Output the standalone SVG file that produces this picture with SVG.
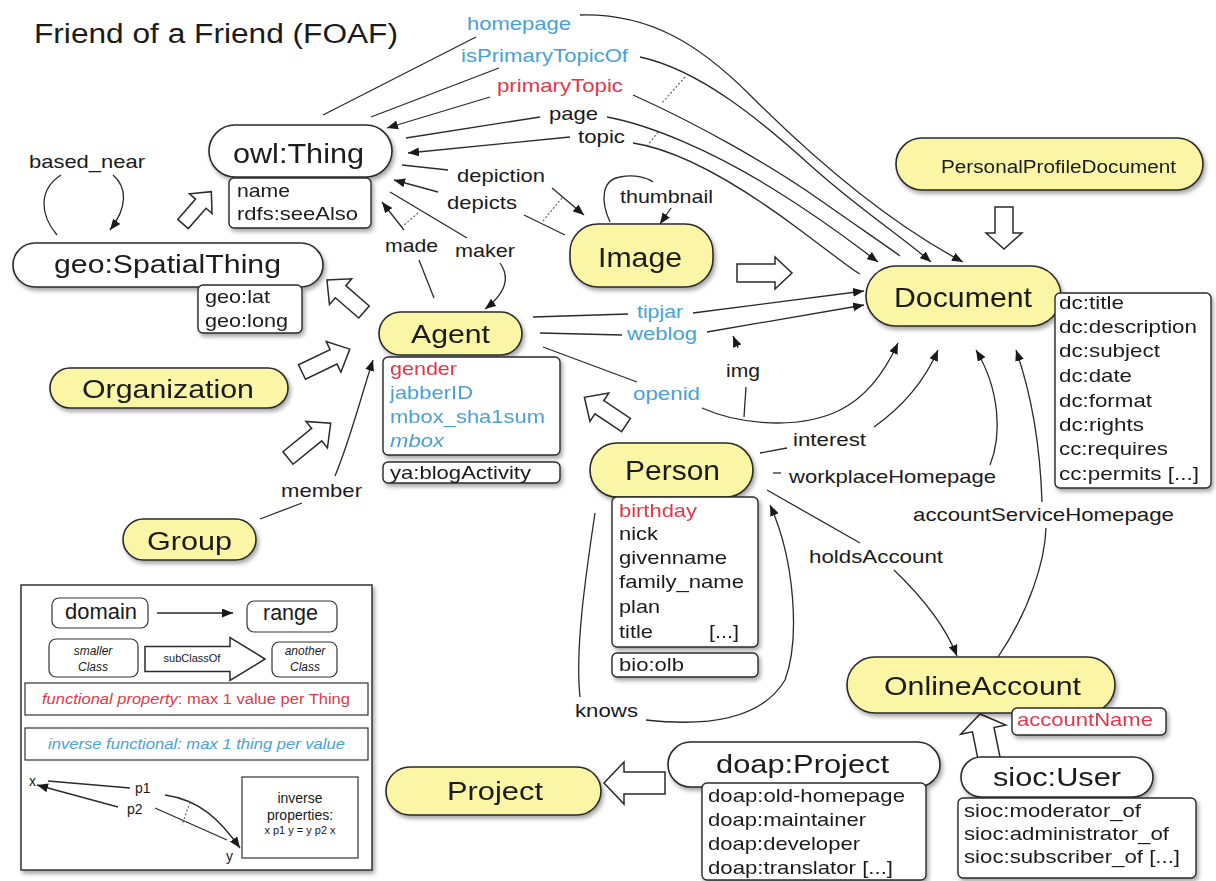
<svg xmlns="http://www.w3.org/2000/svg" width="1216" height="881" viewBox="0 0 1216 881">
<defs>
<style>
text{font-family:"Liberation Sans",Arial,Helvetica,sans-serif;fill:#1a1a1a}
.pill{fill:#faf6a6;stroke:#2a2a2a;stroke-width:1.6}
.wpill{fill:#fff;stroke:#2a2a2a;stroke-width:1.6}
.box{fill:#fff;stroke:#2a2a2a;stroke-width:1.4}
.lg{fill:#fff;stroke:#333;stroke-width:1.2}
.big{font-size:26px}
.prop{font-size:19px}
.lbl{font-size:19px}
.blue{fill:#4aa0d8}
.red{fill:#e0384a}
.c{fill:none;stroke:#2a2a2a;stroke-width:1.3}
.a{marker-end:url(#ah)}
.d{fill:none;stroke:#666;stroke-width:1.2;stroke-dasharray:2 2}
.ha{fill:#fff;stroke:#2a2a2a;stroke-width:1.5}
</style>
<marker id="ah" viewBox="0 0 11 9" refX="11" refY="4.5" markerWidth="11" markerHeight="9" markerUnits="userSpaceOnUse" orient="auto"><path d="M0,0 L11,4.5 L0,9 z" fill="#1a1a1a"/></marker>
<filter id="sh" x="-10%" y="-15%" width="125%" height="150%"><feDropShadow dx="2" dy="3" stdDeviation="2" flood-color="#000" flood-opacity="0.35"/></filter>
</defs>
<rect width="1216" height="881" fill="#fff"/>
<text x="34" y="43" font-size="27" textLength="364" lengthAdjust="spacingAndGlyphs">Friend of a Friend (FOAF)</text>

<g id="connectors">
<path class="c" d="M323,115 L476,37"/>
<path class="c a" d="M580,15 C650,13 700,45 750,95 S880,218 963,262"/>
<path class="c" d="M371,117 L499,68"/>
<path class="c a" d="M640,57 C700,70 760,120 810,165 S900,235 931,262"/>
<path class="c a" d="M490,97 L387,128"/>
<path class="c" d="M633,95 C700,125 770,165 820,200 S885,245 900,256"/>
<path class="c" d="M406,138 L540,117"/>
<path class="c a" d="M607,117 C650,125 710,150 770,187 S855,245 878,262"/>
<path class="c a" d="M570,137 L408,153"/>
<path class="c" d="M633,143 C680,150 740,185 800,230 S850,268 860,274"/>
<path class="d" d="M685,77 L662,103"/>
<path class="d" d="M658,132 L648,145"/>
<path class="c" d="M402,165 L448,170"/>
<path class="c a" d="M552,188 L584,215"/>
<path class="c a" d="M438,192 L394,180"/>
<path class="c" d="M524,215 L565,235"/>
<path class="d" d="M562,198 L542,222"/>
<path class="c" d="M610,222 C600,200 602,180 620,177 C635,174 648,178 653,182"/>
<path class="c a" d="M671,208 L660,224"/>
<path class="c" d="M434,298 L419,260"/>
<path class="c a" d="M404,230 L382,202"/>
<path class="c" d="M390,192 L467,238"/>
<path class="c a" d="M500,263 C512,280 502,296 485,309"/>
<path class="d" d="M418,213 L403,226"/>
<path class="c" d="M57,235 C40,215 38,190 61,175"/>
<path class="c a" d="M113,175 C127,187 128,207 110,230"/>
<path class="c" d="M260,519 L302,503"/>
<path class="c a" d="M335,476 C350,440 360,400 373,360"/>
<path class="c" d="M533,317 L628,314"/>
<path class="c a" d="M693,313 L864,291"/>
<path class="c" d="M540,333 L622,335"/>
<path class="c a" d="M707,332 L864,305"/>
<path class="c" d="M543,347 L637,382"/>
<path class="c a" d="M702,408 C740,425 800,430 840,410 C870,395 888,365 898,343"/>
<path class="c" d="M744,417 L746,387"/>
<path class="c a" d="M738,348 L733,336"/>
<path class="c" d="M760,453 L787,448"/>
<path class="c a" d="M874,427 C905,405 925,380 938,350"/>
<path class="c" d="M773,473 L781,473"/>
<path class="c a" d="M990,465 C1002,435 1000,390 976,350"/>
<path class="c" d="M998,657 C1030,610 1045,560 1046,528"/>
<path class="c a" d="M1042,502 C1040,440 1030,390 1016,350"/>
<path class="c" d="M767,490 L860,543"/>
<path class="c a" d="M894,570 C920,595 945,625 957,656"/>
<path class="c" d="M595,513 C585,580 575,650 580,697"/>
<path class="c a" d="M646,720 C700,726 760,722 785,680 C800,640 795,560 770,505"/>
<polygon class="ha" points="0,-7 27,-7 27,-15 43,0 27,15 27,7 0,7" transform="translate(183,224) rotate(-48.8)"/>
<polygon class="ha" points="0,-8 31,-8 31,-17 49,0 31,17 31,8 0,8" transform="translate(364,312) rotate(-139.1)"/>
<polygon class="ha" points="0,-8 35,-8 35,-17 53,0 35,17 35,8 0,8" transform="translate(302,372) rotate(-25.6)"/>
<polygon class="ha" points="0,-8 37,-8 37,-17 55,0 37,17 37,8 0,8" transform="translate(288,458) rotate(-39.1)"/>
<polygon class="ha" points="0,-9 38,-9 38,-16 55,0 38,16 38,9 0,9" transform="translate(737,273)"/>
<polygon class="ha" points="0,-9 26,-9 26,-18 42,0 26,18 26,9 0,9" transform="translate(1004,207) rotate(90)"/>
<polygon class="ha" points="0,-8 32,-8 32,-17 50,0 32,17 32,8 0,8" transform="translate(626,425) rotate(-146.3)"/>
<polygon class="ha" points="0,-11 34,-11 34,-23 50,0 34,23 34,11 0,11" transform="translate(990,763) rotate(-101.5)"/>
<polygon class="ha" points="0,-11 41,-11 41,-21 61,0 41,21 41,11 0,11" transform="translate(665,783) rotate(180)"/>
</g>

<g id="labels">
<text class="lbl blue" x="467" y="30" textLength="104" lengthAdjust="spacingAndGlyphs">homepage</text>
<text class="lbl blue" x="461" y="62" textLength="167" lengthAdjust="spacingAndGlyphs">isPrimaryTopicOf</text>
<text class="lbl red" x="497" y="92" textLength="126" lengthAdjust="spacingAndGlyphs">primaryTopic</text>
<text class="lbl" x="549" y="120" textLength="49" lengthAdjust="spacingAndGlyphs">page</text>
<text class="lbl" x="578" y="143" textLength="47" lengthAdjust="spacingAndGlyphs">topic</text>
<text class="lbl" x="457" y="182" textLength="88" lengthAdjust="spacingAndGlyphs">depiction</text>
<text class="lbl" x="447" y="209" textLength="70" lengthAdjust="spacingAndGlyphs">depicts</text>
<text class="lbl" x="620" y="203" textLength="93" lengthAdjust="spacingAndGlyphs">thumbnail</text>
<text class="lbl" x="385" y="252" textLength="53" lengthAdjust="spacingAndGlyphs">made</text>
<text class="lbl" x="455" y="257" textLength="60" lengthAdjust="spacingAndGlyphs">maker</text>
<text class="lbl" x="29" y="168" textLength="116" lengthAdjust="spacingAndGlyphs">based_near</text>
<text class="lbl blue" x="637" y="318" textLength="46" lengthAdjust="spacingAndGlyphs">tipjar</text>
<text class="lbl blue" x="627" y="340" textLength="70" lengthAdjust="spacingAndGlyphs">weblog</text>
<text class="lbl" x="726" y="377" textLength="34" lengthAdjust="spacingAndGlyphs">img</text>
<text class="lbl blue" x="633" y="400" textLength="67" lengthAdjust="spacingAndGlyphs">openid</text>
<text class="lbl" x="793" y="446" textLength="73" lengthAdjust="spacingAndGlyphs">interest</text>
<text class="lbl" x="789" y="483" textLength="207" lengthAdjust="spacingAndGlyphs">workplaceHomepage</text>
<text class="lbl" x="913" y="521" textLength="261" lengthAdjust="spacingAndGlyphs">accountServiceHomepage</text>
<text class="lbl" x="809" y="563" textLength="134" lengthAdjust="spacingAndGlyphs">holdsAccount</text>
<text class="lbl" x="575" y="717" textLength="63" lengthAdjust="spacingAndGlyphs">knows</text>
<text class="lbl" x="281" y="497" textLength="81" lengthAdjust="spacingAndGlyphs">member</text>
</g>

<g id="owlThing" filter="url(#sh)">
<rect class="wpill" x="209" y="125" width="183" height="52" rx="26"/>
<text x="233" y="163" font-size="28" textLength="131" lengthAdjust="spacingAndGlyphs">owl:Thing</text>
<rect class="box" x="229" y="178" width="142" height="50" rx="5"/>
<text class="prop" x="237" y="197" textLength="53" lengthAdjust="spacingAndGlyphs">name</text>
<text class="prop" x="237" y="220" textLength="121" lengthAdjust="spacingAndGlyphs">rdfs:seeAlso</text>
</g>

<g id="geoSpatialThing" filter="url(#sh)">
<rect class="wpill" x="13" y="243" width="310" height="44" rx="22"/>
<text class="big" x="54" y="273" textLength="227" lengthAdjust="spacingAndGlyphs">geo:SpatialThing</text>
<rect class="box" x="198" y="285" width="104" height="48" rx="5"/>
<text class="prop" x="205" y="303" textLength="65" lengthAdjust="spacingAndGlyphs">geo:lat</text>
<text class="prop" x="205" y="327" textLength="83" lengthAdjust="spacingAndGlyphs">geo:long</text>
</g>

<g id="Organization" filter="url(#sh)">
<rect class="pill" x="50" y="368" width="238" height="40" rx="20"/>
<text class="big" x="82" y="398" textLength="172" lengthAdjust="spacingAndGlyphs">Organization</text>
</g>

<g id="Group" filter="url(#sh)">
<rect class="pill" x="123" y="519" width="133" height="41" rx="20.5"/>
<text class="big" x="147" y="550" textLength="85" lengthAdjust="spacingAndGlyphs">Group</text>
</g>

<g id="Agent" filter="url(#sh)">
<rect class="pill" x="379" y="312" width="143" height="43" rx="21.5"/>
<text class="big" x="411" y="343" textLength="79" lengthAdjust="spacingAndGlyphs">Agent</text>
<rect class="box" x="383" y="357" width="177" height="98" rx="5"/>
<text class="prop red" x="390" y="375" textLength="67" lengthAdjust="spacingAndGlyphs">gender</text>
<text class="prop blue" x="390" y="399" textLength="83" lengthAdjust="spacingAndGlyphs">jabberID</text>
<text class="prop blue" x="390" y="423" textLength="155" lengthAdjust="spacingAndGlyphs">mbox_sha1sum</text>
<text class="prop blue" x="390" y="447" font-style="italic" textLength="54" lengthAdjust="spacingAndGlyphs">mbox</text>
<rect class="box" x="383" y="462" width="177" height="21" rx="5"/>
<text class="prop" x="390" y="479" textLength="141" lengthAdjust="spacingAndGlyphs">ya:blogActivity</text>
</g>

<g id="Image" filter="url(#sh)">
<rect class="pill" x="570" y="224" width="143" height="63" rx="28"/>
<text x="598" y="267" font-size="27" textLength="84" lengthAdjust="spacingAndGlyphs">Image</text>
</g>

<g id="PersonalProfileDocument" filter="url(#sh)">
<rect class="pill" x="896" y="138" width="307" height="52" rx="26"/>
<text x="941" y="173" font-size="18" textLength="235" lengthAdjust="spacingAndGlyphs">PersonalProfileDocument</text>
</g>

<g id="Document" filter="url(#sh)">
<rect class="pill" x="866" y="266" width="195" height="60" rx="30"/>
<text x="894" y="307" font-size="28" textLength="138" lengthAdjust="spacingAndGlyphs">Document</text>
<rect class="box" x="1055" y="293" width="156" height="195" rx="5"/>
<text class="prop" x="1059" y="309" textLength="65" lengthAdjust="spacingAndGlyphs">dc:title</text>
<text class="prop" x="1059" y="333" textLength="138" lengthAdjust="spacingAndGlyphs">dc:description</text>
<text class="prop" x="1059" y="357" textLength="101" lengthAdjust="spacingAndGlyphs">dc:subject</text>
<text class="prop" x="1059" y="382" textLength="73" lengthAdjust="spacingAndGlyphs">dc:date</text>
<text class="prop" x="1059" y="407" textLength="93" lengthAdjust="spacingAndGlyphs">dc:format</text>
<text class="prop" x="1059" y="431" textLength="85" lengthAdjust="spacingAndGlyphs">dc:rights</text>
<text class="prop" x="1059" y="455" textLength="109" lengthAdjust="spacingAndGlyphs">cc:requires</text>
<text class="prop" x="1059" y="480" textLength="140" lengthAdjust="spacingAndGlyphs">cc:permits [...]</text>
</g>

<g id="Person" filter="url(#sh)">
<rect class="pill" x="590" y="443" width="163" height="54" rx="27"/>
<text x="625" y="480" font-size="28" textLength="95" lengthAdjust="spacingAndGlyphs">Person</text>
<rect class="box" x="612" y="497" width="146" height="150" rx="5"/>
<text class="prop red" x="619" y="517" textLength="78" lengthAdjust="spacingAndGlyphs">birthday</text>
<text class="prop" x="619" y="540" textLength="39" lengthAdjust="spacingAndGlyphs">nick</text>
<text class="prop" x="619" y="564" textLength="108" lengthAdjust="spacingAndGlyphs">givenname</text>
<text class="prop" x="619" y="588" textLength="125" lengthAdjust="spacingAndGlyphs">family_name</text>
<text class="prop" x="619" y="613" textLength="41" lengthAdjust="spacingAndGlyphs">plan</text>
<text class="prop" x="619" y="638" textLength="34" lengthAdjust="spacingAndGlyphs">title</text>
<text class="prop" x="709" y="638" textLength="30" lengthAdjust="spacingAndGlyphs">[...]</text>
<rect class="box" x="612" y="653" width="146" height="24" rx="5"/>
<text class="prop" x="619" y="671" textLength="65" lengthAdjust="spacingAndGlyphs">bio:olb</text>
</g>

<g id="OnlineAccount" filter="url(#sh)">
<rect class="pill" x="847" y="657" width="268" height="56" rx="28"/>
<text class="big" x="884" y="695" textLength="197" lengthAdjust="spacingAndGlyphs">OnlineAccount</text>
<rect class="box" x="1012" y="708" width="154" height="27" rx="5"/>
<text class="prop red" x="1017" y="726" textLength="136" lengthAdjust="spacingAndGlyphs">accountName</text>
</g>

<g id="siocUser" filter="url(#sh)">
<rect class="wpill" x="961" y="757" width="192" height="40" rx="20"/>
<text class="big" x="993" y="786" textLength="128" lengthAdjust="spacingAndGlyphs">sioc:User</text>
<rect class="box" x="958" y="798" width="238" height="80" rx="5"/>
<text class="prop" x="964" y="817" textLength="177" lengthAdjust="spacingAndGlyphs">sioc:moderator_of</text>
<text class="prop" x="964" y="840" textLength="205" lengthAdjust="spacingAndGlyphs">sioc:administrator_of</text>
<text class="prop" x="964" y="863" textLength="216" lengthAdjust="spacingAndGlyphs">sioc:subscriber_of [...]</text>
</g>

<g id="doapProject" filter="url(#sh)">
<rect class="wpill" x="668" y="742" width="272" height="45" rx="22.5"/>
<text class="big" x="716" y="773" textLength="173" lengthAdjust="spacingAndGlyphs">doap:Project</text>
<rect class="box" x="702" y="783" width="224" height="97" rx="5"/>
<text class="prop" x="708" y="802" textLength="197" lengthAdjust="spacingAndGlyphs">doap:old-homepage</text>
<text class="prop" x="708" y="826" textLength="158" lengthAdjust="spacingAndGlyphs">doap:maintainer</text>
<text class="prop" x="708" y="850" textLength="152" lengthAdjust="spacingAndGlyphs">doap:developer</text>
<text class="prop" x="708" y="874" textLength="185" lengthAdjust="spacingAndGlyphs">doap:translator [...]</text>
</g>

<g id="Project" filter="url(#sh)">
<rect class="pill" x="386" y="767" width="215" height="48" rx="24"/>
<text x="447" y="800" font-size="25" textLength="96" lengthAdjust="spacingAndGlyphs">Project</text>
</g>

<g id="legend">
<rect x="21" y="585" width="351" height="285" fill="#fff" stroke="#333" stroke-width="1.5" filter="url(#sh)"/>
<rect class="lg" x="52" y="598" width="96" height="30" rx="7"/>
<text x="65" y="619" font-size="22" textLength="72" lengthAdjust="spacingAndGlyphs">domain</text>
<path class="c a" d="M157,613 L233,613"/>
<rect class="lg" x="247" y="601" width="90" height="31" rx="7"/>
<text x="263" y="620" font-size="22" textLength="55" lengthAdjust="spacingAndGlyphs">range</text>
<rect class="lg" x="49" y="639" width="89" height="38" rx="7"/>
<text x="93" y="655" font-size="12" font-style="italic" text-anchor="middle" fill="#444">smaller</text>
<text x="93" y="671" font-size="12" font-style="italic" text-anchor="middle" fill="#444">Class</text>
<polygon class="ha" points="0,-12.5 85,-12.5 85,-21.5 120,0 85,21.5 85,12.5 0,12.5" transform="translate(145,659)"/>
<text x="192" y="662" font-size="11" text-anchor="middle" fill="#333">subClassOf</text>
<rect class="lg" x="272" y="642" width="65" height="35" rx="7"/>
<text x="305" y="655" font-size="12" font-style="italic" text-anchor="middle" fill="#444">another</text>
<text x="305" y="671" font-size="12" font-style="italic" text-anchor="middle" fill="#444">Class</text>
<rect class="lg" x="25" y="683" width="343" height="32"/>
<text x="42" y="704" font-size="14" class="red" textLength="308" lengthAdjust="spacingAndGlyphs"><tspan font-style="italic">functional property</tspan>: max 1 value per Thing</text>
<rect class="lg" x="25" y="728" width="343" height="32"/>
<text x="48" y="749" font-size="14" class="blue" font-style="italic" textLength="297" lengthAdjust="spacingAndGlyphs">inverse functional: max 1 thing per value</text>
<text x="29" y="786" font-size="14">x</text>
<path class="c" d="M48,781 L130,788"/>
<text x="135" y="793" font-size="14">p1</text>
<path class="c a" d="M165,795 C200,800 220,820 240,848"/>
<path class="c a" d="M118,807 L37,785"/>
<text x="127" y="814" font-size="14">p2</text>
<path class="c" d="M155,808 L227,840"/>
<path class="d" d="M190,802 L182,825"/>
<text x="226" y="861" font-size="14">y</text>
<rect class="lg" x="242" y="777" width="116" height="81"/>
<text x="300" y="803" font-size="14" text-anchor="middle">inverse</text>
<text x="300" y="820" font-size="14" text-anchor="middle">properties:</text>
<text x="300" y="834" font-size="11" text-anchor="middle">x p1 y = y p2 x</text>
</g>
</svg>
